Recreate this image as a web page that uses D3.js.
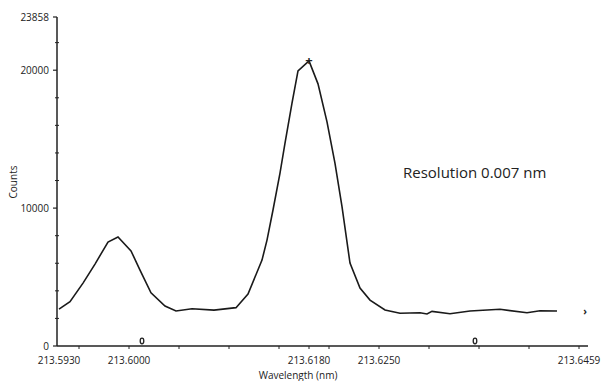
<!DOCTYPE html>
<html>
<head>
<meta charset="utf-8">
<script src="https://cdn.jsdelivr.net/npm/d3@7"></script>
<style>
  body { margin: 0; background: #fff; }
  text { font-family: "Open Sans", "Noto Sans", sans-serif; fill: #222; }
</style>
</head>
<body>
<div class="chart"></div>
<script>
"use strict"

// wavelength (nm) of each sample
const wavelength = [213.5930, 213.5941, 213.5954, 213.5966, 213.5979, 213.5989, 213.6002, 213.6011,
  213.6022, 213.6036, 213.6047, 213.6063, 213.6085, 213.6107, 213.6119, 213.6133, 213.6138,
  213.6144, 213.6151, 213.6156, 213.6163, 213.6169, 213.6180, 213.6189, 213.6198, 213.6206,
  213.6213, 213.6221, 213.6231, 213.6241, 213.6256, 213.6271, 213.6291, 213.6298, 213.6303,
  213.6321, 213.6341, 213.6371, 213.6398, 213.6411, 213.6428];
// counts
const counts = [2680, 3210, 4560, 5940, 7540, 7900, 6900, 5500,
  3860, 2900, 2540, 2700, 2600, 2780, 3770, 6230, 7680,
  9860, 12540, 14710, 17610, 19950, 20670, 19010, 16250, 13240,
  10100, 6010, 4200, 3330, 2610, 2370, 2410, 2320, 2510,
  2340, 2540, 2660, 2410, 2560, 2540];

const xLabels = [213.5930, 213.6000, 213.6180, 213.6250, 213.6459];
const xMinor = [213.595, 213.600, 213.605, 213.610, 213.615, 213.620, 213.625, 213.630, 213.635, 213.640, 213.645];
const yLabels = [0, 10000, 20000, 23858];
const yMinor = [2000, 4000, 6000, 8000, 12000, 14000, 16000, 18000, 22000];
const peak = {nm: 213.6180, count: 20670};
const windowMarks = [213.6013, 213.6346];
const endMark = {nm: 213.6456, count: 2470};

const W = 602, H = 381;
let svg = d3.select(".chart").append("svg")
  .attr("width", W).attr("height", H);

let x = d3.scaleLinear().domain([213.5930, 213.6459]).range([59, 588]);
let y = d3.scaleLinear().domain([0, 23858]).range([346, 17]);

// y axis
svg.append("line").attr("x1", 57).attr("x2", 57).attr("y1", y(23858)).attr("y2", y(0))
  .attr("stroke", "#222").attr("stroke-width", 1.5);
svg.selectAll(".ymin").data(yMinor).enter().append("line")
  .attr("x1", 55).attr("x2", 59)
  .attr("y1", d => y(d)).attr("y2", d => y(d))
  .attr("stroke", "#222").attr("stroke-width", 1);
svg.selectAll(".ymaj").data(yLabels).enter().append("line")
  .attr("x1", 53).attr("x2", 57)
  .attr("y1", d => y(d)).attr("y2", d => y(d))
  .attr("stroke", "#222").attr("stroke-width", 1.2);
svg.selectAll(".ylab").data(yLabels).enter().append("text")
  .attr("x", 49).attr("y", d => y(d) + 3.5)
  .attr("text-anchor", "end").attr("font-size", 10)
  .text(d => d);

// x axis
svg.append("line").attr("x1", 57).attr("x2", 588).attr("y1", 346).attr("y2", 346)
  .attr("stroke", "#222").attr("stroke-width", 1.5);
svg.selectAll(".xmin").data(xMinor.concat([213.6180])).enter().append("line")
  .attr("x1", d => x(d)).attr("x2", d => x(d))
  .attr("y1", 346).attr("y2", 349)
  .attr("stroke", "#222").attr("stroke-width", 1);
svg.selectAll(".xlab").data(xLabels).enter().append("text")
  .attr("x", (d, i) => i === xLabels.length - 1 ? x(d) - 9 : x(d))
  .attr("y", 364)
  .attr("text-anchor", "middle").attr("font-size", 10)
  .text(d => d.toFixed(4));

svg.append("text").attr("x", 298).attr("y", 379)
  .attr("text-anchor", "middle").attr("font-size", 10)
  .text("Wavelength (nm)");
svg.append("text").attr("transform", "translate(17,182) rotate(-90)")
  .attr("text-anchor", "middle").attr("font-size", 10)
  .text("Counts");

// spectrum
let pts = wavelength.map((w, i) => [w, counts[i]]);
svg.append("path").datum(pts)
  .attr("fill", "none").attr("stroke", "#1a1a1a").attr("stroke-width", 1.6)
  .attr("d", d3.line().x(d => x(d[0])).y(d => y(d[1])));

// peak marker
svg.append("text").attr("x", x(peak.nm)).attr("y", y(peak.count) + 4.5)
  .attr("text-anchor", "middle").attr("font-size", 13).attr("font-weight", "bold")
  .text("+");

// window markers
svg.selectAll(".wm").data(windowMarks).enter().append("ellipse")
  .attr("cx", d => x(d)).attr("cy", 341)
  .attr("rx", 1.8).attr("ry", 2.8)
  .attr("fill", "none").attr("stroke", "#222").attr("stroke-width", 1.3);

svg.append("text").attr("x", x(endMark.nm)).attr("y", y(endMark.count) + 3)
  .attr("text-anchor", "middle").attr("font-size", 10).attr("font-weight", "bold")
  .text("›");

svg.append("text").attr("x", 403).attr("y", 178)
  .attr("font-size", 15)
  .text("Resolution 0.007 nm");
</script>
</body>
</html>
